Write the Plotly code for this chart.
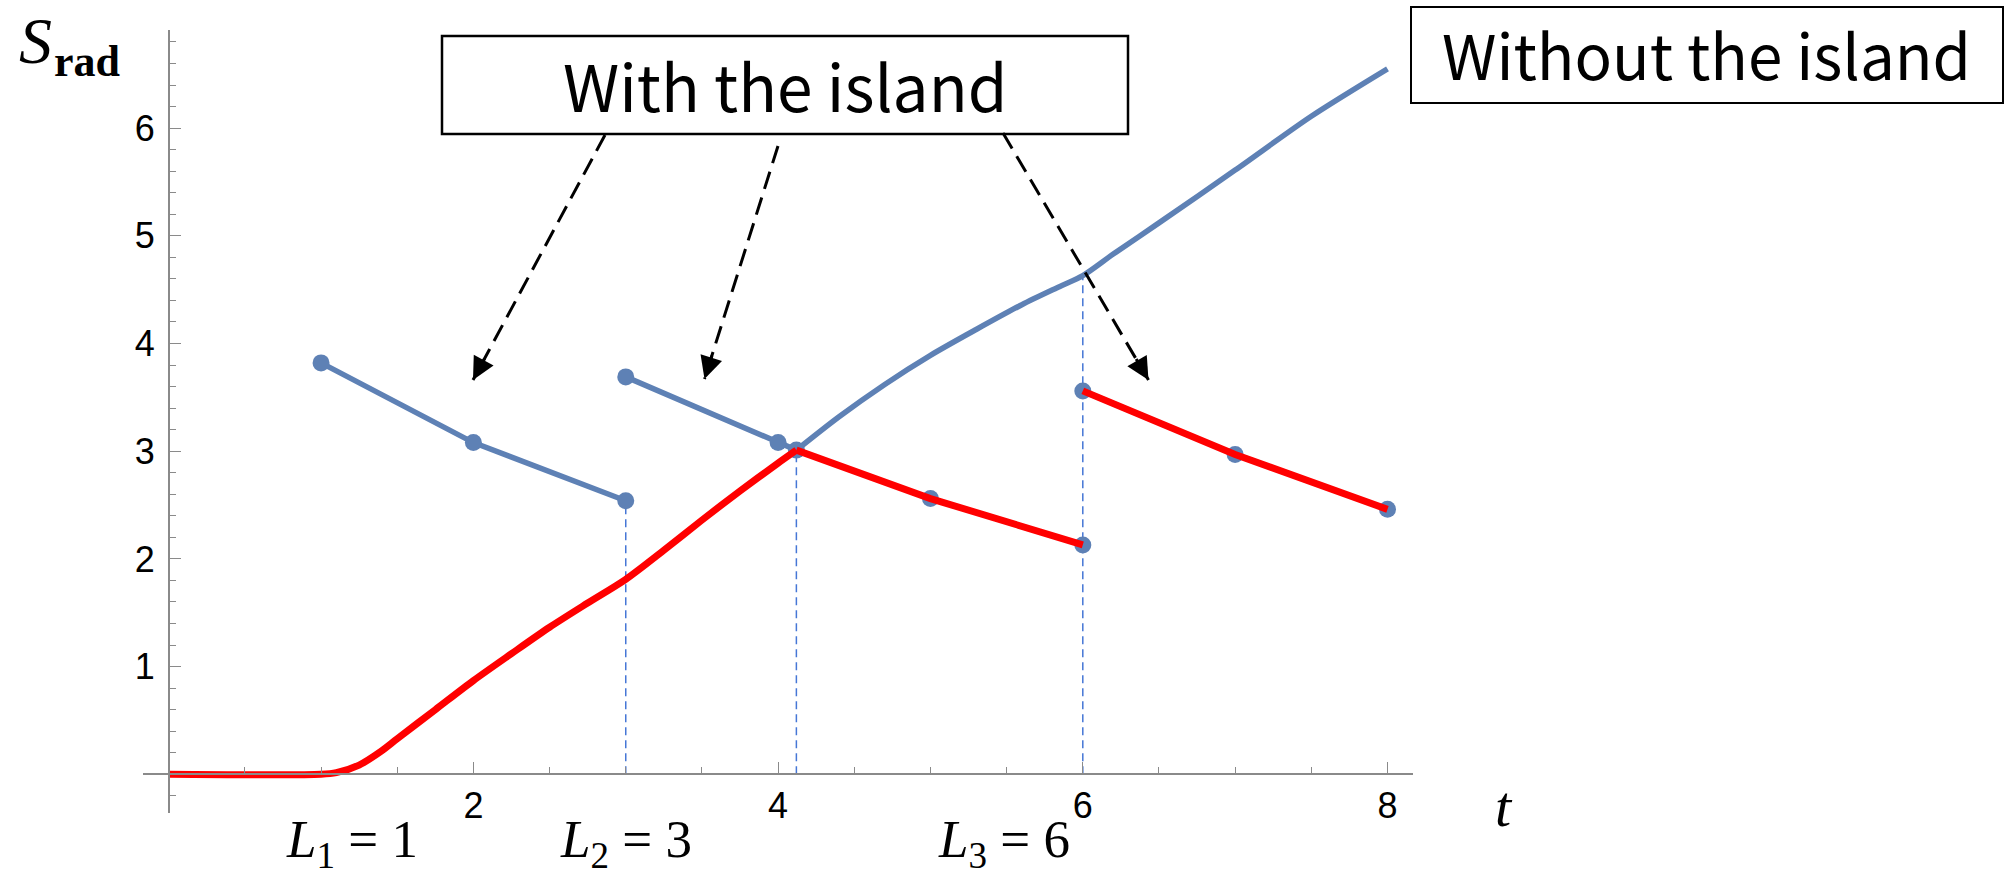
import plotly.graph_objects as go

# ---------------- data ----------------
t_rise = [0.0, 1.0, 1.1, 1.25, 1.4, 1.5, 1.75, 2.0, 2.25, 2.5, 2.75, 3.0, 3.25, 3.5, 3.75, 4.0, 4.12]
s_rise = [0.0, 0.0, 0.015, 0.086, 0.22, 0.33, 0.60, 0.87, 1.12, 1.365, 1.59, 1.81, 2.08, 2.36, 2.63, 2.89, 3.01]

t_without = [4.12, 4.4, 4.7, 5.0, 5.3, 5.6, 5.85, 6.0, 6.2, 6.5, 7.0, 7.5, 8.0]
s_without = [3.01, 3.32, 3.62, 3.89, 4.13, 4.36, 4.53, 4.63, 4.83, 5.12, 5.61, 6.11, 6.55]

t_island1 = [1, 2, 3]
s_island1 = [3.82, 3.08, 2.54]
t_island2 = [3, 4, 4.12, 5, 6]
s_island2 = [3.69, 3.08, 3.01, 2.56, 2.13]
t_island3 = [6, 7, 8]
s_island3 = [3.56, 2.97, 2.46]

page_time = 4.12
L_values = [1, 3, 6]
x_tick_vals = [2, 4, 6, 8]
y_tick_vals = [1, 2, 3, 4, 5, 6]

# ---------------- geometry ----------------
W, H = 2013, 876
ML, MR, MT, MB = 143, 600, 30, 63
X_RANGE = [-0.1687, 8.1674]
Y_RANGE = [-0.3593, 6.9108]
PW, PH = W - ML - MR, H - MT - MB


def px_x(px):
    return (px - ML) / PW


def px_y(py):
    return (H - MB - py) / PH


def dx(px):
    return X_RANGE[0] + (px - ML) / PW * (X_RANGE[1] - X_RANGE[0])


def dy(py):
    return Y_RANGE[0] + (H - MB - py) / PH * (Y_RANGE[1] - Y_RANGE[0])


BLUE = "#5E81B5"
RED = "#FF0000"
VBLUE = "#4677D6"
AXIS = "#8a8a8a"

fig = go.Figure()

# vertical dashed guides
v_x = [L_values[1], page_time, L_values[2]]
v_top = [s_island1[-1], s_rise[-1], s_without[t_without.index(L_values[2])]]
for xv, yt in zip(v_x, v_top):
    fig.add_trace(go.Scatter(x=[xv, xv], y=[0, yt], mode="lines",
                             line=dict(color=VBLUE, width=1.5, dash="8px,5px"),
                             hoverinfo="skip", showlegend=False))

# without-island curve (after Page time)
fig.add_trace(go.Scatter(x=t_without, y=s_without, mode="lines",
                         line=dict(color=BLUE, width=5.5, shape="spline", smoothing=0.8),
                         showlegend=False))

# with-island series
for tx, sy in [(t_island1, s_island1), (t_island2, s_island2), (t_island3, s_island3)]:
    fig.add_trace(go.Scatter(x=tx, y=sy, mode="lines+markers",
                             line=dict(color=BLUE, width=5.5),
                             marker=dict(color=BLUE, size=17),
                             showlegend=False))

# red Page curve
fig.add_trace(go.Scatter(x=t_rise, y=s_rise, mode="lines",
                         line=dict(color=RED, width=7, shape="spline", smoothing=0.8),
                         showlegend=False))
red2_t = [t for t in t_island2 if t >= page_time]
red2_s = [s for t, s in zip(t_island2, s_island2) if t >= page_time]
fig.add_trace(go.Scatter(x=red2_t, y=red2_s, mode="lines",
                         line=dict(color=RED, width=7), showlegend=False))
fig.add_trace(go.Scatter(x=t_island3, y=s_island3, mode="lines",
                         line=dict(color=RED, width=7), showlegend=False))

# ---------------- annotations ----------------
shapes = []
annotations = []

# "With the island" box
shapes.append(dict(type="rect", xref="x", yref="y",
                   x0=dx(442), x1=dx(1128), y0=dy(134), y1=dy(36),
                   line=dict(color="black", width=2.5), fillcolor="white", layer="above"))
annotations.append(dict(text="With the island", xref="paper", yref="paper",
                        x=px_x(785), y=px_y(84), xanchor="center", yanchor="middle",
                        showarrow=False, font=dict(family="Noto Sans CJK JP", size=64, color="black")))

# "Without the island" box
shapes.append(dict(type="rect", xref="paper", yref="paper",
                   x0=px_x(1411), x1=px_x(2003), y0=px_y(103), y1=px_y(7),
                   line=dict(color="black", width=2), fillcolor="white", layer="above"))
annotations.append(dict(text="Without the island", xref="paper", yref="paper",
                        x=px_x(1706), y=px_y(53), xanchor="center", yanchor="middle",
                        showarrow=False, font=dict(family="Noto Sans CJK JP", size=62, color="black")))

# dashed arrows
arrows_px = [((605, 135), (473, 380)), ((778, 146), (704.5, 379)), ((1003, 133), (1148.5, 380))]
for (sx, sy), (ex, ey) in arrows_px:
    shapes.append(dict(type="line", xref="x", yref="y",
                       x0=dx(sx), y0=dy(sy), x1=dx(ex), y1=dy(ey),
                       line=dict(color="black", width=3, dash="18px,9px")))
    vx, vy = sx - ex, sy - ey
    n = (vx ** 2 + vy ** 2) ** 0.5
    annotations.append(dict(x=dx(ex), y=dy(ey), xref="x", yref="y", text="",
                            showarrow=True, arrowhead=2, arrowsize=1.5, arrowwidth=3,
                            arrowcolor="black", ax=vx / n * 26, ay=vy / n * 26,
                            axref="pixel", ayref="pixel", standoff=0))

# axis labels: S_rad built from two pieces
annotations.append(dict(text="<i>S</i>", xref="paper", yref="paper",
                        x=px_x(17), y=px_y(79), xanchor="left", yanchor="bottom",
                        showarrow=False, font=dict(family="Liberation Serif", size=66, color="black")))
annotations.append(dict(text="<b>rad</b>", xref="paper", yref="paper",
                        x=px_x(52), y=px_y(88), xanchor="left", yanchor="bottom",
                        showarrow=False, font=dict(family="Liberation Serif", size=44, color="black")))
annotations.append(dict(text="<i>t</i>", xref="paper", yref="paper",
                        x=px_x(1504), y=px_y(806), xanchor="center", yanchor="middle",
                        showarrow=False, font=dict(family="Liberation Serif", size=58, color="black")))

# L labels
L_centers_px = [352, 625.5, 1004]
for i, (L, cx) in enumerate(zip(L_values, L_centers_px)):
    annotations.append(dict(text=f"<i>L</i><sub>{i + 1}</sub> = {L}", xref="paper", yref="paper",
                            x=px_x(cx), y=px_y(843), xanchor="center", yanchor="middle",
                            showarrow=False, font=dict(family="Liberation Serif", size=53, color="black")))

x_minor = [k * 0.5 for k in range(1, 17) if (k * 0.5) not in x_tick_vals]
y_minor = [round(-0.2 + k * 0.2, 1) for k in range(0, 36)]
y_minor = [v for v in y_minor if v not in y_tick_vals and v != 0]

fig.update_layout(
    width=W, height=H,
    margin=dict(l=ML, r=MR, t=MT, b=MB, pad=0),
    paper_bgcolor="white", plot_bgcolor="white",
    shapes=shapes, annotations=annotations,
    xaxis=dict(range=X_RANGE, anchor="free", position=px_y(774.3), side="bottom",
               showgrid=False, zeroline=False, showline=True, linecolor=AXIS, linewidth=1.5,
               tickmode="array", tickvals=x_tick_vals, ticktext=[str(v) for v in x_tick_vals],
               ticks="inside", ticklen=12, tickwidth=1.3, tickcolor=AXIS,
               ticklabelstandoff=0,
               tickfont=dict(family="Liberation Sans", size=36, color="black"),
               minor=dict(tickmode="array", tickvals=x_minor, ticks="inside", ticklen=7,
                          tickwidth=1.2, tickcolor=AXIS, showgrid=False)),
    yaxis=dict(range=Y_RANGE, anchor="free", position=px_x(168.7), side="left",
               showgrid=False, zeroline=False, showline=True, linecolor=AXIS, linewidth=1.5,
               tickmode="array", tickvals=y_tick_vals, ticktext=[str(v) for v in y_tick_vals],
               ticks="inside", ticklen=12, tickwidth=1.3, tickcolor=AXIS,
               ticklabelstandoff=6,
               tickfont=dict(family="Liberation Sans", size=36, color="black"),
               minor=dict(tickmode="array", tickvals=y_minor, ticks="inside", ticklen=7,
                          tickwidth=1.2, tickcolor=AXIS, showgrid=False)),
)

fig.write_html("out.html")
